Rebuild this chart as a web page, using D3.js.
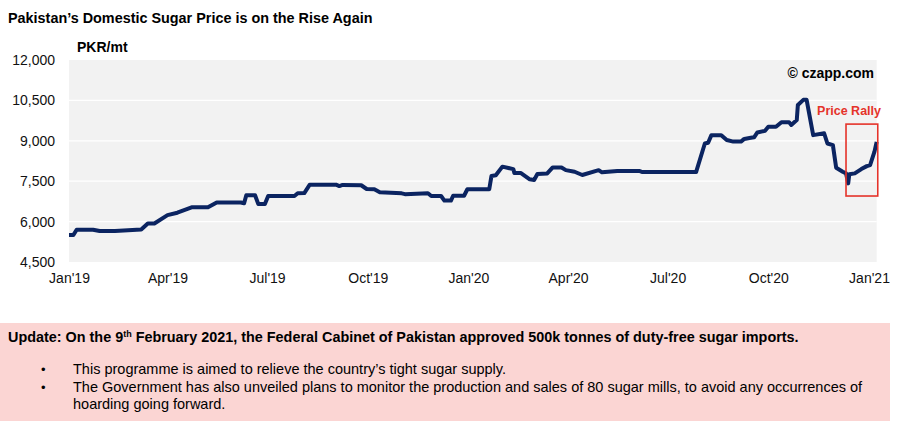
<!DOCTYPE html>
<html>
<head>
<meta charset="utf-8">
<script src="https://cdn.jsdelivr.net/npm/d3@7"></script>
<style>
  html, body { margin: 0; padding: 0; background: #fff; }
  svg { display: block; font-family: "Liberation Sans", Arial, sans-serif; }
</style>
</head>
<body>
<svg id="chart" width="902" height="426"></svg>
<script>
// ---- Data ----
const dates = [
  "2019-01-01","2019-01-05","2019-01-08","2019-01-23","2019-01-29","2019-02-12","2019-03-08","2019-03-14",
  "2019-03-20","2019-04-01","2019-04-10","2019-04-23","2019-05-08","2019-05-16","2019-06-07","2019-06-10",
  "2019-06-12","2019-06-20","2019-06-23","2019-06-29","2019-07-02","2019-07-26","2019-07-29","2019-08-04",
  "2019-08-09","2019-09-02","2019-09-05","2019-09-08","2019-09-25","2019-09-30","2019-10-07","2019-10-12",
  "2019-11-01","2019-11-04","2019-11-25","2019-11-28","2019-12-07","2019-12-10","2019-12-16","2019-12-18",
  "2019-12-28","2019-12-31","2020-01-20","2020-01-22","2020-01-26","2020-02-01","2020-02-11","2020-02-12",
  "2020-02-18","2020-02-26","2020-03-01","2020-03-04","2020-03-13","2020-03-18","2020-03-26","2020-03-30",
  "2020-04-07","2020-04-14","2020-04-29","2020-05-02","2020-05-16","2020-06-05","2020-06-08","2020-07-27",
  "2020-08-04","2020-08-07","2020-08-10","2020-08-19","2020-08-24","2020-08-30","2020-09-06","2020-09-09",
  "2020-09-15","2020-09-18","2020-09-21","2020-09-28","2020-10-01","2020-10-08","2020-10-13","2020-10-20",
  "2020-10-22","2020-10-27","2020-10-28","2020-11-02","2020-11-05","2020-11-11","2020-11-21","2020-11-24",
  "2020-11-29","2020-12-02","2020-12-08","2020-12-11","2020-12-13","2020-12-14","2020-12-19","2020-12-25",
  "2020-12-30","2021-01-02","2021-01-06","2021-01-08"
];
const prices = [
  5500,5500,5700,5700,5650,5650,5710,5930,
  5930,6240,6330,6530,6530,6710,6710,6680,
  6980,6980,6650,6650,6950,6950,7050,7060,
  7370,7370,7320,7360,7350,7210,7200,7090,
  7050,7020,7050,6950,6950,6780,6780,6960,
  6960,7200,7200,7690,7720,8040,7950,7800,
  7800,7570,7545,7770,7790,8010,8010,7910,
  7850,7730,7910,7830,7880,7880,7840,7840,
  8900,8930,9210,9210,9030,8970,8970,9070,
  9110,9130,9310,9370,9520,9520,9690,9690,
  9590,9770,10330,10520,10520,9210,9280,8900,
  8840,8000,7850,7790,7420,7760,7790,7950,
  8060,8100,8600,8960
];
const yTicks = [4500, 6000, 7500, 9000, 10500, 12000];
const xTickDates = ["2019-01-01","2019-04-01","2019-07-01","2019-10-01","2020-01-01","2020-04-01","2020-07-01","2020-10-01","2021-01-01"];
const xTickLabels = ["Jan'19","Apr'19","Jul'19","Oct'19","Jan'20","Apr'20","Jul'20","Oct'20","Jan'21"];
const rallyRange = ["2020-12-11","2021-01-09"];
const rallyValues = [6950, 9620];

const title = "Pakistan\u2019s Domestic Sugar Price is on the Rise Again";
const unitLabel = "PKR/mt";
const sourceLabel = "\u00A9 czapp.com";
const rallyLabel = "Price Rally";
const bullets = [
  ["This programme is aimed to relieve the country\u2019s tight sugar supply."],
  ["The Government has also unveiled plans to monitor the production and sales of 80 sugar mills, to avoid any occurrences of",
   "hoarding going forward."]
];

// ---- Drawing ----
const parse = d3.utcParse("%Y-%m-%d");
const data = dates.map((d, i) => ({ date: parse(d), value: prices[i] }));

const svg = d3.select("#chart");
const x = d3.scaleUtc().domain([parse("2019-01-01"), parse("2021-01-01")]).range([69, 869]);
const y = d3.scaleLinear().domain([4500, 12000]).range([262, 60]);

const plotRight = x(parse("2021-01-08"));

// title
svg.append("text").attr("x", 8).attr("y", 23)
  .attr("font-size", 14.4).attr("font-weight", "bold").attr("fill", "#000").text(title);

// plot background
svg.append("rect").attr("x", x.range()[0]).attr("y", y(12000))
  .attr("width", plotRight - x.range()[0]).attr("height", y(4500) - y(12000))
  .attr("fill", "#f2f2f2");

// gridlines
svg.append("g").selectAll("line").data(yTicks.filter(t => t > 4500 && t < 12000)).join("line")
  .attr("x1", x.range()[0]).attr("x2", plotRight)
  .attr("y1", d => y(d)).attr("y2", d => y(d))
  .attr("stroke", "#ffffff").attr("stroke-width", 1.2);

// y axis
const yAxis = d3.axisLeft(y).tickValues(yTicks).tickFormat(d3.format(",")).tickSize(0).tickPadding(0);
const gy = svg.append("g").attr("transform", "translate(55,0)").call(yAxis);
gy.select(".domain").remove();
gy.selectAll("text").attr("font-size", 14).attr("fill", "#111").attr("font-family", "Liberation Sans, Arial, sans-serif");

// x axis
const xAxis = d3.axisBottom(x).tickValues(xTickDates.map(parse))
  .tickFormat((d, i) => xTickLabels[i]).tickSize(0).tickPadding(0);
const gx = svg.append("g").attr("transform", "translate(0,273)").call(xAxis);
gx.select(".domain").remove();
gx.selectAll("text").attr("font-size", 14).attr("fill", "#111").attr("font-family", "Liberation Sans, Arial, sans-serif");

// unit label
svg.append("text").attr("x", 77).attr("y", 52)
  .attr("font-size", 14).attr("font-weight", "bold").text(unitLabel);

// source
svg.append("text").attr("x", 874).attr("y", 78).attr("text-anchor", "end")
  .attr("font-size", 14).attr("font-weight", "bold").text(sourceLabel);

// line
const line = d3.line().x(d => x(d.date)).y(d => y(d.value));
svg.append("path").datum(data).attr("d", line)
  .attr("fill", "none").attr("stroke", "#0b2461").attr("stroke-width", 4)
  .attr("stroke-linejoin", "round").attr("stroke-linecap", "butt");

// rally box
const rx0 = x(parse(rallyRange[0])), rx1 = x(parse(rallyRange[1]));
svg.append("rect").attr("x", rx0).attr("y", y(rallyValues[1]))
  .attr("width", rx1 - rx0).attr("height", y(rallyValues[0]) - y(rallyValues[1]))
  .attr("fill", "none").attr("stroke", "#e5332a").attr("stroke-width", 1.6);
svg.append("text").attr("x", 881).attr("y", 115).attr("text-anchor", "end")
  .attr("font-size", 12.5).attr("font-weight", "bold").attr("fill", "#e5332a").text(rallyLabel);

// update box
svg.append("rect").attr("x", 0).attr("y", 323).attr("width", 890).attr("height", 98).attr("fill", "#fbd5d3");
const upd = svg.append("text").attr("x", 8).attr("y", 342).attr("font-size", 14.4).attr("font-weight", "bold").attr("fill", "#000");
upd.append("tspan").text("Update: On the 9");
upd.append("tspan").attr("font-size", 9).attr("dy", -5).text("th");
upd.append("tspan").attr("dy", 5).text(" February 2021, the Federal Cabinet of Pakistan approved 500k tonnes of duty-free sugar imports.");

const lineYs = [[374], [392, 409]];
bullets.forEach((lines, i) => {
  svg.append("text").attr("x", 41).attr("y", lineYs[i][0]).attr("font-size", 13).text("\u2022");
  lines.forEach((t, j) => {
    svg.append("text").attr("x", 73).attr("y", lineYs[i][j]).attr("font-size", 14.5).attr("fill", "#000").text(t);
  });
});
</script>
</body>
</html>
